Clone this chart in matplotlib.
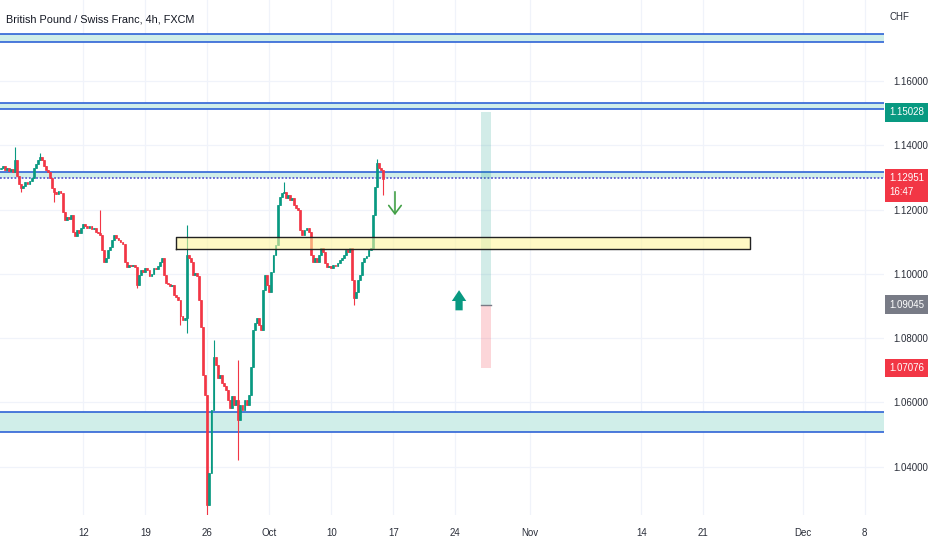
import numpy as np
import matplotlib.pyplot as plt
from matplotlib.transforms import blended_transform_factory

plt.rcParams["font.family"] = ["Liberation Sans", "DejaVu Sans"]

# =========================================================
# Data: GBP/CHF 4h candles (weekends skipped)
# =========================================================
first_open = 1.1325
closes = [
    1.1330, 1.1336, 1.1323, 1.1330, 1.1320, 1.1327, 1.1317, 1.1355, 1.1305, 1.1280,
    1.1267, 1.1274, 1.1286, 1.1280, 1.1289, 1.1299, 1.1330, 1.1342, 1.1355, 1.1364,
    1.1355, 1.1336, 1.1323, 1.1317, 1.1299, 1.1267, 1.1255, 1.1249, 1.1258, 1.1252,
    1.1193, 1.1168, 1.1177, 1.1171, 1.1183, 1.1131, 1.1118, 1.1137, 1.1128, 1.1143,
    1.1156, 1.1149, 1.1143, 1.1149, 1.1140, 1.1143, 1.1131, 1.1128, 1.1121, 1.1075,
    1.1037, 1.1050, 1.1075, 1.1084, 1.1106, 1.1121, 1.1112, 1.1106, 1.1100, 1.1093,
    1.1037, 1.1022, 1.1028, 1.1025, 1.1028, 1.1022, 1.0966, 1.0997, 1.1012, 1.1006,
    1.1019, 1.1012, 1.0994, 1.1000, 1.1019, 1.1016, 1.1025, 1.1037, 1.1050, 1.0997,
    1.0972, 1.0969, 1.0963, 1.0966, 1.0935, 1.0928, 1.0919, 1.0869, 1.0857, 1.0863,
    1.1059, 1.1050, 1.1037, 1.0997, 1.1003, 1.0994, 1.0919, 1.0835, 1.0686, 1.0624,
    1.0282, 1.0381, 1.0577, 1.0742, 1.0717, 1.0677, 1.0686, 1.0661, 1.0652, 1.0639,
    1.0608, 1.0583, 1.0621, 1.0593, 1.0608, 1.0546, 1.0593, 1.0577, 1.0608, 1.0593,
    1.0624, 1.0711, 1.0826, 1.0848, 1.0863, 1.0841, 1.0826, 1.0950, 1.0997, 1.0966,
    1.0944, 1.1006, 1.1059, 1.1090, 1.1215, 1.1239, 1.1252, 1.1255, 1.1236, 1.1246,
    1.1230, 1.1236, 1.1215, 1.1205, 1.1199, 1.1137, 1.1121, 1.1137, 1.1143, 1.1131,
    1.1059, 1.1037, 1.1050, 1.1037, 1.1059, 1.1081, 1.1068, 1.1034, 1.1022, 1.1025,
    1.1019, 1.1028, 1.1025, 1.1034, 1.1044, 1.1050, 1.1059, 1.1075, 1.1068, 1.1081,
    1.0981, 1.0925, 1.0944, 1.0981, 1.0997, 1.1037, 1.1050, 1.1056, 1.1075, 1.1081,
    1.1183, 1.1271, 1.1345, 1.1330, 1.1323, 1.1295,
]
# notable wicks only (candle index -> price)
high_wicks = {7: 1.1395, 19: 1.1376, 48: 1.1199, 90: 1.1152, 103: 1.0795,
              115: 1.0733, 137: 1.1286, 182: 1.1358}
low_wicks = {10: 1.1255, 26: 1.1224, 66: 1.0956, 87: 1.0841, 90: 1.0817,
             100: 1.0244, 115: 1.0422, 171: 1.0904, 185: 1.1246}

date_ticks = [40, 70, 100, 130, 160, 190, 220, 256, 310, 340, 388, 418]
date_labels = ["12", "19", "26", "Oct", "10", "17", "24", "Nov", "14", "21", "Dec", "8"]
price_ticks = [1.04, 1.06, 1.08, 1.10, 1.12, 1.14, 1.16]

zones = [(1.1722, 1.1746), (1.1512, 1.1533), (1.1297, 1.1317), (1.0508, 1.0569)]
yellow_lo, yellow_hi = 1.1076, 1.1114
yellow_x0, yellow_x1 = 85, 362.5

target, entry, stop = 1.15028, 1.09045, 1.07076
pos_x0, pos_x1 = 232.4, 237.3
last_price = 1.12951
countdown = "16:47"

# =========================================================
# Style
# =========================================================
GREEN = "#089981"
RED = "#f23645"
BLUE = "#2f63d6"
ZONE_FILL = "#d0eee9"
GRID = "#f0f3fa"
TEXT = "#2a2e39"
FS = 7

fig = plt.figure(figsize=(9.32, 5.5), dpi=100)
ax = fig.add_axes([0, 35 / 550, 884 / 932, 515 / 550])
ax.set_xlim(-0.3, 427.4)
ax.set_ylim(1.0250, 1.1852)
for s in ax.spines.values():
    s.set_visible(False)

ax.set_xticks(date_ticks)
ax.set_xticklabels(date_labels)
ax.set_yticks(price_ticks)
ax.set_yticklabels([f"{v:.5f}" for v in price_ticks])
ax.tick_params(axis="y", left=False, labelleft=False, right=True, labelright=True,
               length=0, pad=7, labelsize=FS, labelcolor=TEXT)
ax.tick_params(axis="x", length=0, pad=9, labelsize=FS, labelcolor=TEXT)
ax.grid(color=GRID, linewidth=0.9)
ax.set_axisbelow(True)

# zones
for lo, hi in zones:
    ax.axhspan(lo, hi, color=ZONE_FILL, zorder=1, linewidth=0)
    ax.axhline(hi, color=BLUE, linewidth=1.2, zorder=2)
    if lo == 1.1297:
        ax.axhline(lo, color="#5d5fd0", linewidth=1.3, linestyle=(0, (1, 1)), zorder=2)
    else:
        ax.axhline(lo, color=BLUE, linewidth=1.2, zorder=2)

# candles
c = np.array(closes)
o = np.array([first_open] + closes[:-1])
hi = np.maximum(o, c)
lo = np.minimum(o, c)
for k, v in high_wicks.items():
    hi[k] = v
for k, v in low_wicks.items():
    lo[k] = v
x = np.arange(len(c))
cols = np.where(c >= o, GREEN, RED)
ax.vlines(x, lo, hi, colors=cols, linewidth=0.8, zorder=3)
ax.bar(x, np.abs(c - o), bottom=np.minimum(o, c), width=0.9, color=cols,
       edgecolor=cols, linewidth=0.5, zorder=3)

# yellow range box
ax.fill_between([yellow_x0, yellow_x1], yellow_lo, yellow_hi, facecolor="#fff59d",
                alpha=0.6, edgecolor="none", zorder=4)
ax.plot([yellow_x0, yellow_x1, yellow_x1, yellow_x0, yellow_x0],
        [yellow_lo, yellow_lo, yellow_hi, yellow_hi, yellow_lo],
        color="#222222", linewidth=1.0, zorder=4)

# long position tool
ax.fill_between([pos_x0, pos_x1], entry, target, color=GREEN, alpha=0.18, linewidth=0, zorder=2)
ax.fill_between([pos_x0, pos_x1], stop, entry, color=RED, alpha=0.2, linewidth=0, zorder=2)
ax.plot([pos_x0, pos_x1], [entry, entry], color="#787b86", linewidth=1.0, zorder=3)

# arrows
ax.annotate("", xy=(190.8, 1.1174), xytext=(190.8, 1.1264),
            arrowprops=dict(arrowstyle="->,head_length=0.6,head_width=0.45",
                            color="#43a047", linewidth=1.2, mutation_scale=10))
ax.annotate("", xy=(221.8, 1.0958), xytext=(221.8, 1.0878),
            arrowprops=dict(arrowstyle="simple,head_length=0.6,head_width=0.8,tail_width=0.4",
                            color=GREEN, linewidth=0, mutation_scale=13))

# price scale labels
tr = blended_transform_factory(ax.transAxes, ax.transData)
lx = 1.0 + 5 / 884
box = dict(boxstyle="square,pad=0.45", linewidth=0)
ax.text(lx, target, f"{target:.5f}", transform=tr, ha="left", va="center",
        fontsize=FS, color="white", bbox=dict(box, facecolor=GREEN), clip_on=False)
ax.text(lx, last_price + 0.0018, f"{last_price:.5f}\n{countdown}", transform=tr,
        ha="left", va="top", fontsize=FS, color="white", linespacing=1.5,
        bbox=dict(box, facecolor=RED), clip_on=False)
ax.text(lx, entry, f"{entry:.5f}", transform=tr, ha="left", va="center",
        fontsize=FS, color="white", bbox=dict(box, facecolor="#787b86"), clip_on=False)
ax.text(lx, stop, f"{stop:.5f}", transform=tr, ha="left", va="center",
        fontsize=FS, color="white", bbox=dict(box, facecolor=RED), clip_on=False)

fig.text(890 / 932, 1 - 17 / 550, "CHF", fontsize=FS, color=TEXT, va="center")
fig.text(6 / 932, 1 - 19 / 550, "British Pound / Swiss Franc, 4h, FXCM",
         fontsize=7.8, color="#131722", va="center")

fig.savefig("out.png", dpi=100)
